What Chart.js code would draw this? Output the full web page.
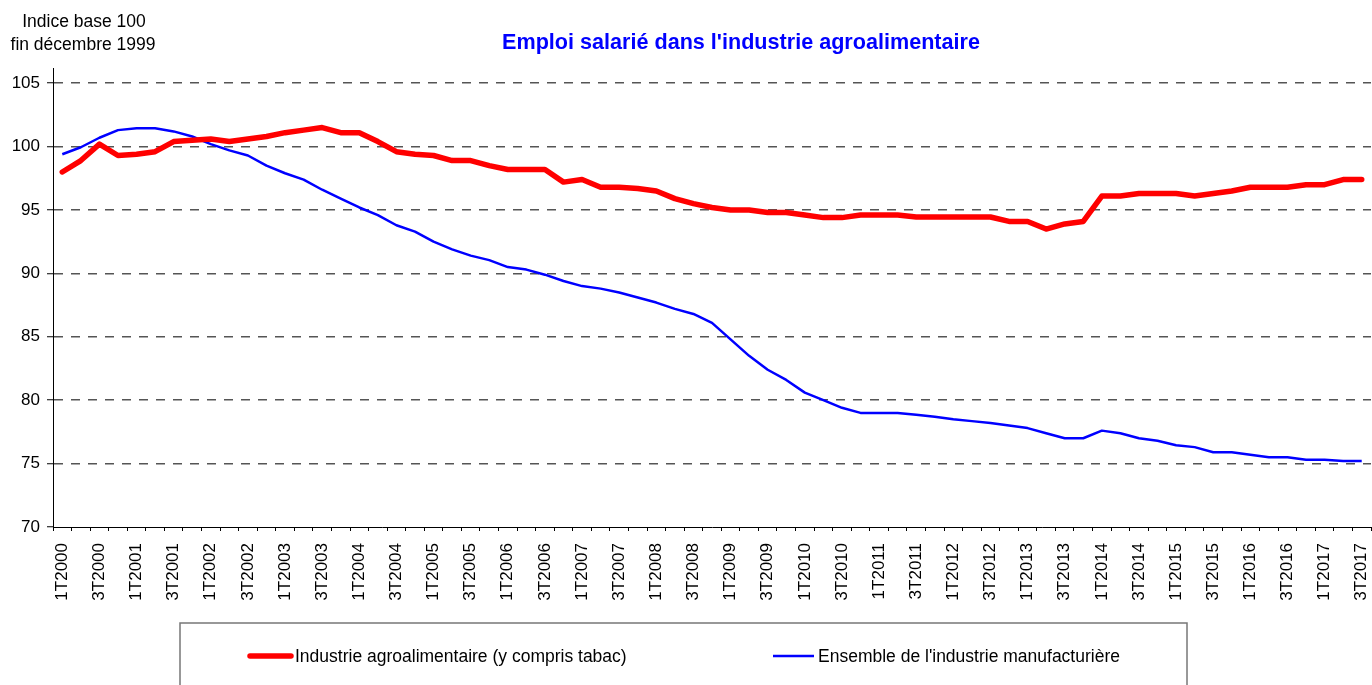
<!DOCTYPE html>
<html lang="fr">
<head>
<meta charset="utf-8">
<title>Emploi salarié dans l'industrie agroalimentaire</title>
<script src="https://cdn.jsdelivr.net/npm/chart.js@4.4.1/dist/chart.umd.min.js"></script>
<style>
  html, body { margin: 0; padding: 0; background: #fff; }
  #wrap { position: relative; width: 1372px; height: 685px; }
</style>
</head>
<body>
<div id="wrap"><canvas id="emploi-chart"></canvas></div>
<script>
// Quarters 1T2000 .. 3T2017
const years = [2000, 2001, 2002, 2003, 2004, 2005, 2006, 2007, 2008,
               2009, 2010, 2011, 2012, 2013, 2014, 2015, 2016, 2017];
const quarters = ['1T', '2T', '3T', '4T'];
const categories = [];
years.forEach(y => quarters.forEach(q => categories.push(q + y)));
categories.splice(71); // series stops at 3T2017

// Index base 100 = fin décembre 1999
const agroValues = [
  98.0, 98.9, 100.2, 99.3, 99.4, 99.6, 100.4, 100.5, 100.6, 100.4,
  100.6, 100.8, 101.1, 101.3, 101.5, 101.1, 101.1, 100.4, 99.6, 99.4,
  99.3, 98.9, 98.9, 98.5, 98.2, 98.2, 98.2, 97.2, 97.4, 96.8,
  96.8, 96.7, 96.5, 95.9, 95.5, 95.2, 95.0, 95.0, 94.8, 94.8,
  94.6, 94.4, 94.4, 94.6, 94.6, 94.6, 94.45, 94.45, 94.45, 94.45,
  94.45, 94.1, 94.1, 93.5, 93.9, 94.1, 96.1, 96.1, 96.3, 96.3,
  96.3, 96.1, 96.3, 96.5, 96.8, 96.8, 96.8, 97.0, 97.0, 97.4,
  97.4
];
const manufValues = [
  99.4, 99.95, 100.7, 101.3, 101.45, 101.45, 101.2, 100.8, 100.2, 99.7,
  99.3, 98.5, 97.9, 97.4, 96.6, 95.9, 95.2, 94.6, 93.8, 93.3,
  92.5, 91.9, 91.4, 91.05, 90.5, 90.3, 89.9, 89.4, 89.0, 88.8,
  88.5, 88.1, 87.7, 87.2, 86.8, 86.1, 84.8, 83.5, 82.4, 81.6,
  80.6, 80.0, 79.4, 79.0, 79.0, 79.0, 78.85, 78.7, 78.5, 78.35,
  78.2, 78.0, 77.8, 77.4, 77.0, 77.0, 77.6, 77.4, 77.0, 76.8,
  76.45, 76.3, 75.9, 75.9, 75.7, 75.5, 75.5, 75.3, 75.3, 75.2,
  75.2
];
const yTicks = [70, 75, 80, 85, 90, 95, 100, 105];

const FONT = "'Liberation Sans', Arial, sans-serif";

// Texts above the plot and the framed legend below the axis
const decorPlugin = {
  id: 'decor',
  afterDraw(chart) {
    const ctx = chart.ctx;
    ctx.save();
    ctx.fillStyle = '#000';
    ctx.font = '17.5px ' + FONT;
    ctx.textAlign = 'center';
    ctx.textBaseline = 'alphabetic';
    ctx.fillText('Indice base 100', 84, 27);
    ctx.fillText('fin décembre 1999', 83, 50);

    ctx.fillStyle = '#0000ff';
    ctx.font = 'bold 21.6px ' + FONT;
    ctx.fillText("Emploi salarié dans l'industrie agroalimentaire", 741, 49);

    // legend frame
    ctx.strokeStyle = '#777';
    ctx.lineWidth = 1.5;
    ctx.strokeRect(180, 623, 1007, 80);

    const itemX = [250, 773];
    chart.data.datasets.forEach((ds, i) => {
      const x = itemX[i];
      ctx.beginPath();
      ctx.strokeStyle = ds.borderColor;
      ctx.lineWidth = ds.borderWidth;
      ctx.lineCap = i === 0 ? 'round' : 'butt';
      ctx.moveTo(x, 656);
      ctx.lineTo(x + 41, 656);
      ctx.stroke();
      ctx.fillStyle = '#000';
      ctx.font = '17.5px ' + FONT;
      ctx.textAlign = 'left';
      ctx.textBaseline = 'middle';
      ctx.fillText(ds.label, x + 45, 657);
    });
    ctx.restore();
  }
};

const ctx = document.getElementById('emploi-chart').getContext('2d');
new Chart(ctx, {
  type: 'line',
  data: {
    labels: categories,
    datasets: [{
      label: 'Industrie agroalimentaire (y compris tabac)',
      data: agroValues,
      borderColor: '#ff0000',
      borderWidth: 5.5,
      borderCapStyle: 'round',
      borderJoinStyle: 'round',
      pointRadius: 0,
      tension: 0,
      fill: false
    }, {
      label: "Ensemble de l'industrie manufacturière",
      data: manufValues,
      borderColor: '#0000ff',
      borderWidth: 2.5,
      borderJoinStyle: 'round',
      pointRadius: 0,
      tension: 0,
      fill: false
    }]
  },
  options: {
    responsive: true,
    maintainAspectRatio: false,
    animation: false,
    layout: { padding: { top: 68, right: 1, left: 0, bottom: 0 } },
    plugins: {
      legend: { display: false },
      title: { display: false },
      tooltip: { enabled: false }
    },
    scales: {
      x: {
        type: 'category',
        offset: true,
        afterFit(scale) {
          scale.height = 158;
          scale.paddingLeft = 0;
          scale.paddingRight = 0;
        },
        grid: {
          display: true,
          offset: true,
          drawOnChartArea: false,
          drawTicks: true,
          tickLength: 4,
          tickColor: '#000',
          tickWidth: 1
        },
        border: { display: true, color: '#000', width: 1, z: 1 },
        ticks: {
          autoSkip: false,
          maxRotation: 90,
          minRotation: 90,
          padding: 12,
          color: '#000',
          font: { family: FONT, size: 17 },
          callback(value, index) {
            return index % 2 === 0 ? this.getLabelForValue(value) : '';
          }
        }
      },
      y: {
        min: 70,
        max: 106.2,
        afterFit(scale) { scale.width = 53; },
        afterBuildTicks(scale) {
          scale.ticks = yTicks.map(v => ({ value: v }));
        },
        grid: {
          color: c => (c.tick && c.tick.value === 70 ? 'rgba(0,0,0,0)' : '#555'),
          lineWidth: 1.5,
          tickColor: '#000',
          tickLength: 6,
          tickWidth: 1
        },
        border: { display: true, color: '#000', width: 1, dash: [9, 8], z: 1 },
        ticks: {
          padding: 7,
          color: '#000',
          font: { family: FONT, size: 17 }
        }
      }
    }
  },
  plugins: [decorPlugin]
});
</script>
</body>
</html>
